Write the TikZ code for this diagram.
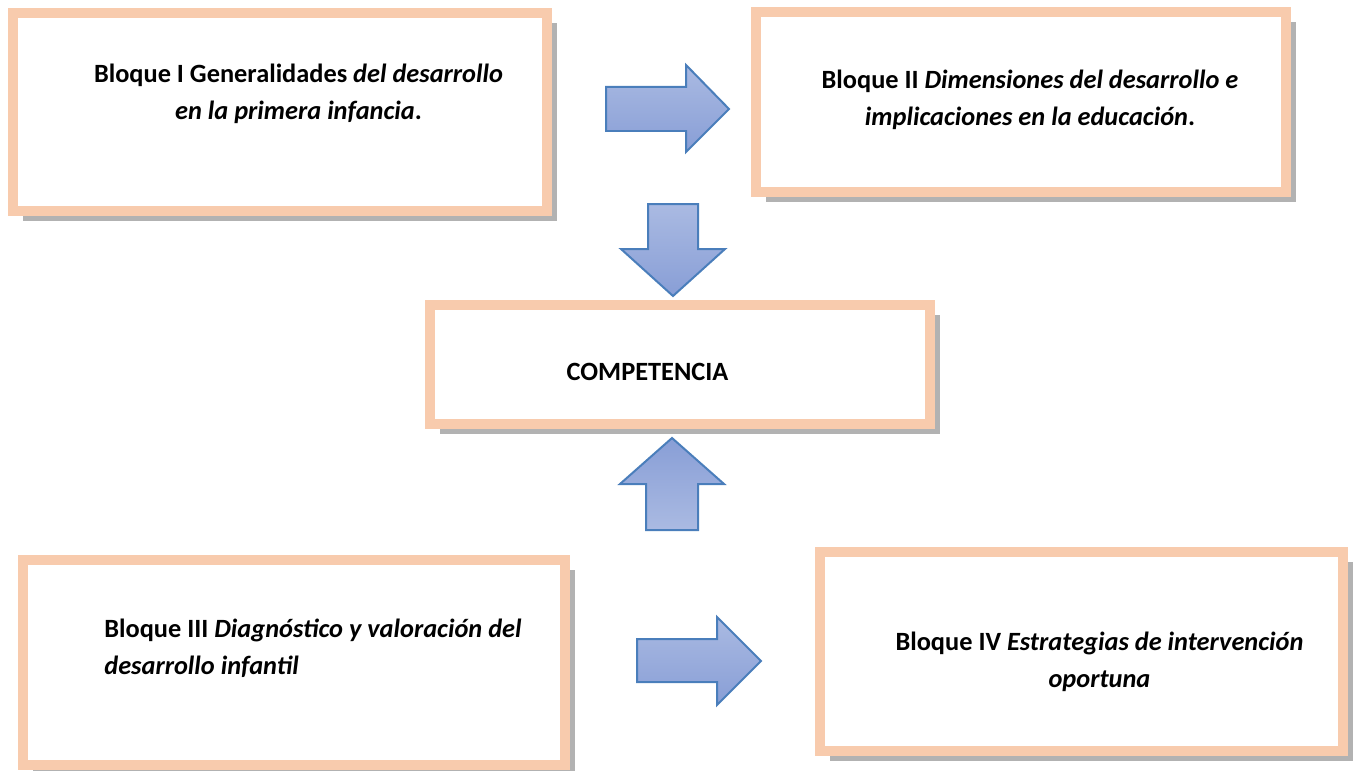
\documentclass[tikz,border=0pt]{standalone}
\usepackage{fontspec}
\setmainfont{Carlito}[BoldFont={Carlito Bold}, BoldItalicFont={Carlito Bold Italic}]
\usetikzlibrary{shadows}

\definecolor{peach}{RGB}{248,203,173}
\definecolor{arrowline}{RGB}{74,126,187}
\definecolor{arrowlight}{RGB}{170,186,226}
\definecolor{arrowdark}{RGB}{136,158,214}

\tikzset{
  bloque/.style={rectangle, draw=peach, line width=0.2cm, fill=white,
    drop shadow={shadow xshift=0.2cm, shadow yshift=-0.2cm, fill=black, opacity=0.3}},
  texto/.style={font=\fontsize{15}{21}\selectfont\bfseries, inner sep=0pt},
  flecha/.style={draw=arrowline, line width=0.04cm, line join=miter},
}

\begin{document}
\begin{tikzpicture}
 		\useasboundingbox (0,0) rectangle (27.16,15.4);
 		\node[bloque, minimum width=10.68cm, minimum height=3.96cm] (b1) at (5.6,13.16) {};
 		\node[bloque, minimum width=10.6cm, minimum height=3.6cm] (b2) at (20.42,13.36) {};
 		\node[bloque, minimum width=10cm, minimum height=2.38cm] (b0) at (13.59,8.12) {};
 		\node[bloque, minimum width=10.84cm, minimum height=4.1cm] (b3) at (5.88,2.15) {};
 		\node[bloque, minimum width=10.46cm, minimum height=3.98cm] (b4) at (21.63,2.37) {};
 		\draw[flecha, top color=arrowlight, bottom color=arrowdark] (12.12,13.66)--(13.72,13.66)--(13.72,14.1)--(14.58,13.22)--(13.72,12.36)--(13.72,12.78)--(12.12,12.78)--cycle;
 		\draw[flecha, top color=arrowlight, bottom color=arrowdark] (12.96,11.32)--(13.96,11.32)--(13.96,10.42)--(14.5,10.42)--(13.46,9.48)--(12.42,10.42)--(12.96,10.42)--cycle;
 		\draw[flecha, top color=arrowdark, bottom color=arrowlight] (12.92,4.8)--(13.96,4.8)--(13.96,5.72)--(14.48,5.72)--(13.44,6.64)--(12.4,5.72)--(12.92,5.72)--cycle;
 		\draw[flecha, top color=arrowlight, bottom color=arrowdark] (12.74,2.62)--(14.34,2.62)--(14.34,3.06)--(15.22,2.18)--(14.34,1.3)--(14.34,1.76)--(12.74,1.76)--cycle;
 		\node[texto, align=center] (t1) at (5.97,13.53) {Bloque I Generalidades \textit{del desarrollo}\\ \textit{en la primera infancia}.};
 		\node[texto, align=center] (t2) at (20.6,13.41) {Bloque II \textit{Dimensiones del desarrollo e}\\ \textit{implicaciones en la educación}.};
 		\node[texto, anchor=base] (t0) at (12.95,7.8) {COMPETENCIA};
 		\node[texto, align=left, anchor=west] (t3) at (2.08,2.44) {Bloque III \textit{Diagnóstico y valoración del}\\ \textit{desarrollo infantil}};
 		\node[texto, align=center] (t4) at (21.99,2.16) {Bloque IV \textit{Estrategias de intervención}\\ \textit{oportuna}};
\end{tikzpicture}
\end{document}
